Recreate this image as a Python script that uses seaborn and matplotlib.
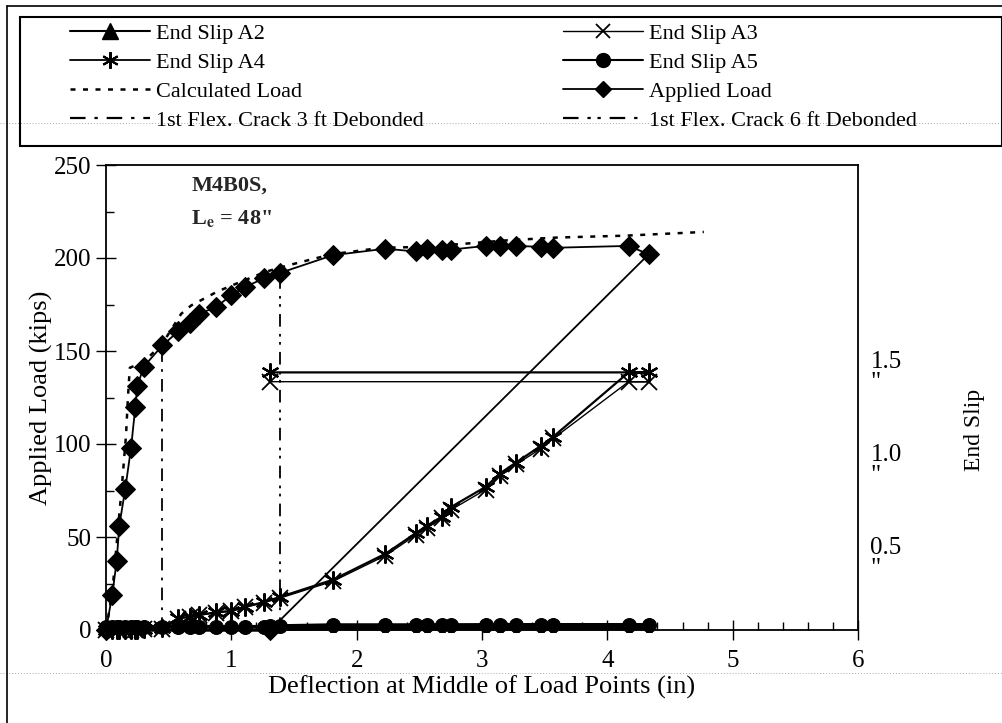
import numpy as np
import pandas as pd
import matplotlib
matplotlib.use('Agg')
import matplotlib.pyplot as plt
from matplotlib.lines import Line2D
from matplotlib.patches import Rectangle
from matplotlib.ticker import MultipleLocator
import seaborn as sns

# --- data ---
# deflection readings (in); the last row jumps back to 1.31
defl = [0.0, 0.05, 0.085, 0.106, 0.154, 0.2, 0.234, 0.25, 0.30, 0.45, 0.576, 0.67,
        0.74, 0.876, 1.0, 1.11, 1.26, 1.39, 1.81, 2.23, 2.47, 2.56, 2.68, 2.75,
        3.03, 3.14, 3.27, 3.47, 3.57, 4.17, 4.33, 1.31]
applied_load = [0, 19, 37, 56, 76, 98, 120, 131, 141.5, 153, 160.5, 165, 170, 173.5,
                180, 184.5, 189, 192, 201.5, 205, 203.5, 205, 204.5, 204.5, 206.5,
                206.5, 206.5, 206, 205.5, 206.5, 202, 0]
slip_a2 = [0, 0, 0, 0, 0, 0, 0, 0, 0, 0, 0, 0, 0, 0, 0, 0, 0, 0.005,
           0.008, 0.008, 0.008, 0.008, 0.008, 0.008, 0.008, 0.008, 0.008, 0.008,
           0.008, 0.008, 0.008, 0.008]
slip_a3 = [0, 0, 0, 0, 0, 0, 0, 0, 0.003, 0.008, 0.06, 0.07, 0.079, 0.093, 0.10,
           0.122, 0.147, 0.172, 0.262, 0.40, 0.51, 0.55, 0.60, 0.645, 0.755, 0.83,
           0.89, 0.975, 1.03, 1.335, 1.335, 1.335]
slip_a4 = [0, 0, 0, 0, 0, 0, 0, 0, 0.005, 0.01, 0.063, 0.072, 0.081, 0.095, 0.103,
           0.125, 0.15, 0.178, 0.27, 0.41, 0.52, 0.56, 0.61, 0.66, 0.77, 0.84,
           0.90, 0.99, 1.04, 1.385, 1.385, 1.385]
slip_a5 = [0.018, 0.018, 0.018, 0.018, 0.018, 0.018, 0.018, 0.018, 0.018, 0.018,
           0.018, 0.018, 0.018, 0.018, 0.018, 0.018, 0.018, 0.022, 0.027, 0.027,
           0.027, 0.027, 0.027, 0.027, 0.027, 0.027, 0.027, 0.027, 0.027, 0.027,
           0.027, 0.02]

calc_defl = [0, 0.05, 0.09, 0.13, 0.16, 0.175, 0.19, 0.3, 0.45, 0.6, 0.68, 0.89,
             1.05, 1.27, 1.45, 1.8, 2.2, 2.55, 3.2, 3.6, 4.14, 4.77]
calc_load = [0, 20, 50, 80, 105, 125, 141, 144, 154, 170, 174.5, 182, 186.5,
             192.5, 196, 202, 205.5, 206, 209.5, 211, 212, 214]

crack3_defl = [0.45, 0.45]
crack3_load = [0, 153]
crack6_defl = [1.39, 1.39]
crack6_load = [0, 192]

slip_ticks = [0.5, 1.0, 1.5]
slip_labels = ['0.5\n"', '1.0\n"', '1.5\n"']

# --- style ---
sns.set_theme(style='white')
plt.rcParams['font.family'] = ['Liberation Serif', 'DejaVu Serif']
plt.rcParams['mathtext.fontset'] = 'stix'

W, H = 1003, 723
fig = plt.figure(figsize=(W / 100, H / 100), dpi=100)
ax = fig.add_axes([106 / W, 1 - 630 / H, 752 / W, 465 / H])
ax2 = ax.twinx()

dash_dot = (0, (7, 4, 1.5, 4))
dash_dot_dot = (0, (7, 4, 1.5, 3, 1.5, 4))
calc_style = (0, (2, 3))

# load side
sns.lineplot(x=crack3_defl, y=crack3_load, ax=ax, color='black', lw=1.3,
             linestyle=dash_dot, sort=False, estimator=None, legend=False)
sns.lineplot(x=crack6_defl, y=crack6_load, ax=ax, color='black', lw=1.3,
             linestyle=dash_dot_dot, sort=False, estimator=None, legend=False)
sns.lineplot(x=calc_defl, y=calc_load, ax=ax, color='black', lw=1.8,
             linestyle=calc_style, sort=False, estimator=None, legend=False)
sns.lineplot(x=defl, y=applied_load, ax=ax, color='black', lw=1.3, marker='D',
             markersize=10, markeredgecolor='black', sort=False, estimator=None,
             legend=False, clip_on=False, zorder=5)

# slip side
sns.lineplot(x=defl, y=slip_a5, ax=ax2, color='black', lw=2.5, marker='o',
             markersize=10, markeredgecolor='black', sort=False, estimator=None,
             legend=False, clip_on=False)
sns.lineplot(x=defl, y=slip_a2, ax=ax2, color='black', lw=2.5, marker='^',
             markersize=5, markeredgecolor='black', sort=False, estimator=None,
             legend=False, clip_on=False)
sns.lineplot(x=defl, y=slip_a3, ax=ax2, color='black', lw=1.0, marker='x',
             markersize=11, markeredgewidth=1.3, markeredgecolor='black',
             sort=False, estimator=None, legend=False, clip_on=False)
sns.lineplot(x=defl, y=slip_a4, ax=ax2, color='black', lw=1.6, marker=(6, 2, 0),
             markersize=13, markeredgewidth=1.6, markeredgecolor='black',
             sort=False, estimator=None, legend=False, clip_on=False)

# axes
ax.set_xlim(0, 6)
ax.set_ylim(0, 250)
ax2.set_ylim(0, 2.5)
ax.xaxis.set_major_locator(MultipleLocator(1))
ax.xaxis.set_minor_locator(MultipleLocator(0.2))
ax.yaxis.set_major_locator(MultipleLocator(50))
ax.yaxis.set_minor_locator(MultipleLocator(25))
ax.tick_params(axis='both', which='major', direction='inout', length=15, width=1,
               color='black', labelsize=18, labelcolor='black')
ax.tick_params(axis='x', which='major', pad=7)
ax.tick_params(axis='y', which='major', pad=3)
ax.tick_params(axis='both', which='minor', direction='in', length=6, width=1,
               color='black')
ax.tick_params(bottom=True, left=True, top=False, right=False,
               which='both')
for s in ax.spines.values():
    s.set_color('black')
    s.set_linewidth(1.3)
for s in ax2.spines.values():
    s.set_visible(False)

ax2.set_yticks(slip_ticks, labels=slip_labels)
ax2.tick_params(axis='y', length=0, pad=9, labelsize=18, labelcolor='black')
for lbl in ax2.get_yticklabels():
    lbl.set_va('top')
    lbl.set_linespacing(0.95)

ax.set_xlabel('Deflection at Middle of Load Points (in)', fontsize=19, color='black')
ax.xaxis.set_label_coords(0.5, -0.097)
ax.set_ylabel('Applied Load (kips)', fontsize=19, color='black')
ax.yaxis.set_label_coords(-0.07, 0.5)
fig.text(975 / W, 1 - 430 / H, 'End Slip', rotation=90, ha='center', va='center',
         fontsize=17, color='black')

ax.text(0.68, 239, 'M4B0S,', fontsize=16, fontweight='bold', va='center')
ax.text(0.68, 221, r'L$_{\mathbf{e}}$ = 48"', fontsize=16, fontweight='bold',
        va='center')

# page frame, legend box and the faint scan rules
fig.add_artist(Line2D([7 / W, 7 / W], [0, 1 - 6 / H], color='black', lw=1.2))
fig.add_artist(Line2D([7 / W, 1], [1 - 6 / H, 1 - 6 / H], color='black', lw=1.2))
fig.add_artist(Rectangle((20 / W, 1 - 146 / H), 982 / W, 129 / H, fill=False,
                         edgecolor='black', lw=1.5))
for py in (123, 673):
    fig.add_artist(Line2D([0, 1], [1 - py / H] * 2, color='#aaaaaa', lw=0.7,
                          linestyle=(0, (1, 2)), zorder=0))

# legend, two columns
h_a2 = Line2D([], [], color='black', lw=1.5, marker='^', ms=11)
h_a4 = Line2D([], [], color='black', lw=1.3, marker=(6, 2, 0), ms=12, mew=1.5)
h_calc = Line2D([], [], color='black', lw=1.8, linestyle=calc_style)
h_c3 = Line2D([], [], color='black', lw=1.6, linestyle=dash_dot)
h_a3 = Line2D([], [], color='black', lw=1.0, marker='x', ms=10, mew=1.3)
h_a5 = Line2D([], [], color='black', lw=1.5, marker='o', ms=10)
h_ap = Line2D([], [], color='black', lw=1.3, marker='D', ms=8)
h_c6 = Line2D([], [], color='black', lw=1.6, linestyle=dash_dot_dot)

leg_kw = dict(loc='upper left', frameon=False, fontsize=16, borderpad=0,
              borderaxespad=0, handlelength=3.6, handletextpad=0.25,
              labelspacing=0.38, numpoints=1, labelcolor='black')
leg1 = fig.legend([h_a2, h_a4, h_calc, h_c3],
                  ['End Slip A2', 'End Slip A4', 'Calculated Load',
                   '1st Flex. Crack 3 ft Debonded'],
                  bbox_to_anchor=(70 / W, 1 - 23 / H), **leg_kw)
leg2 = fig.legend([h_a3, h_a5, h_ap, h_c6],
                  ['End Slip A3', 'End Slip A5', 'Applied Load',
                   '1st Flex. Crack 6 ft Debonded'],
                  bbox_to_anchor=(563 / W, 1 - 23 / H), **leg_kw)

fig.savefig('out.png', dpi=100, facecolor='white')
